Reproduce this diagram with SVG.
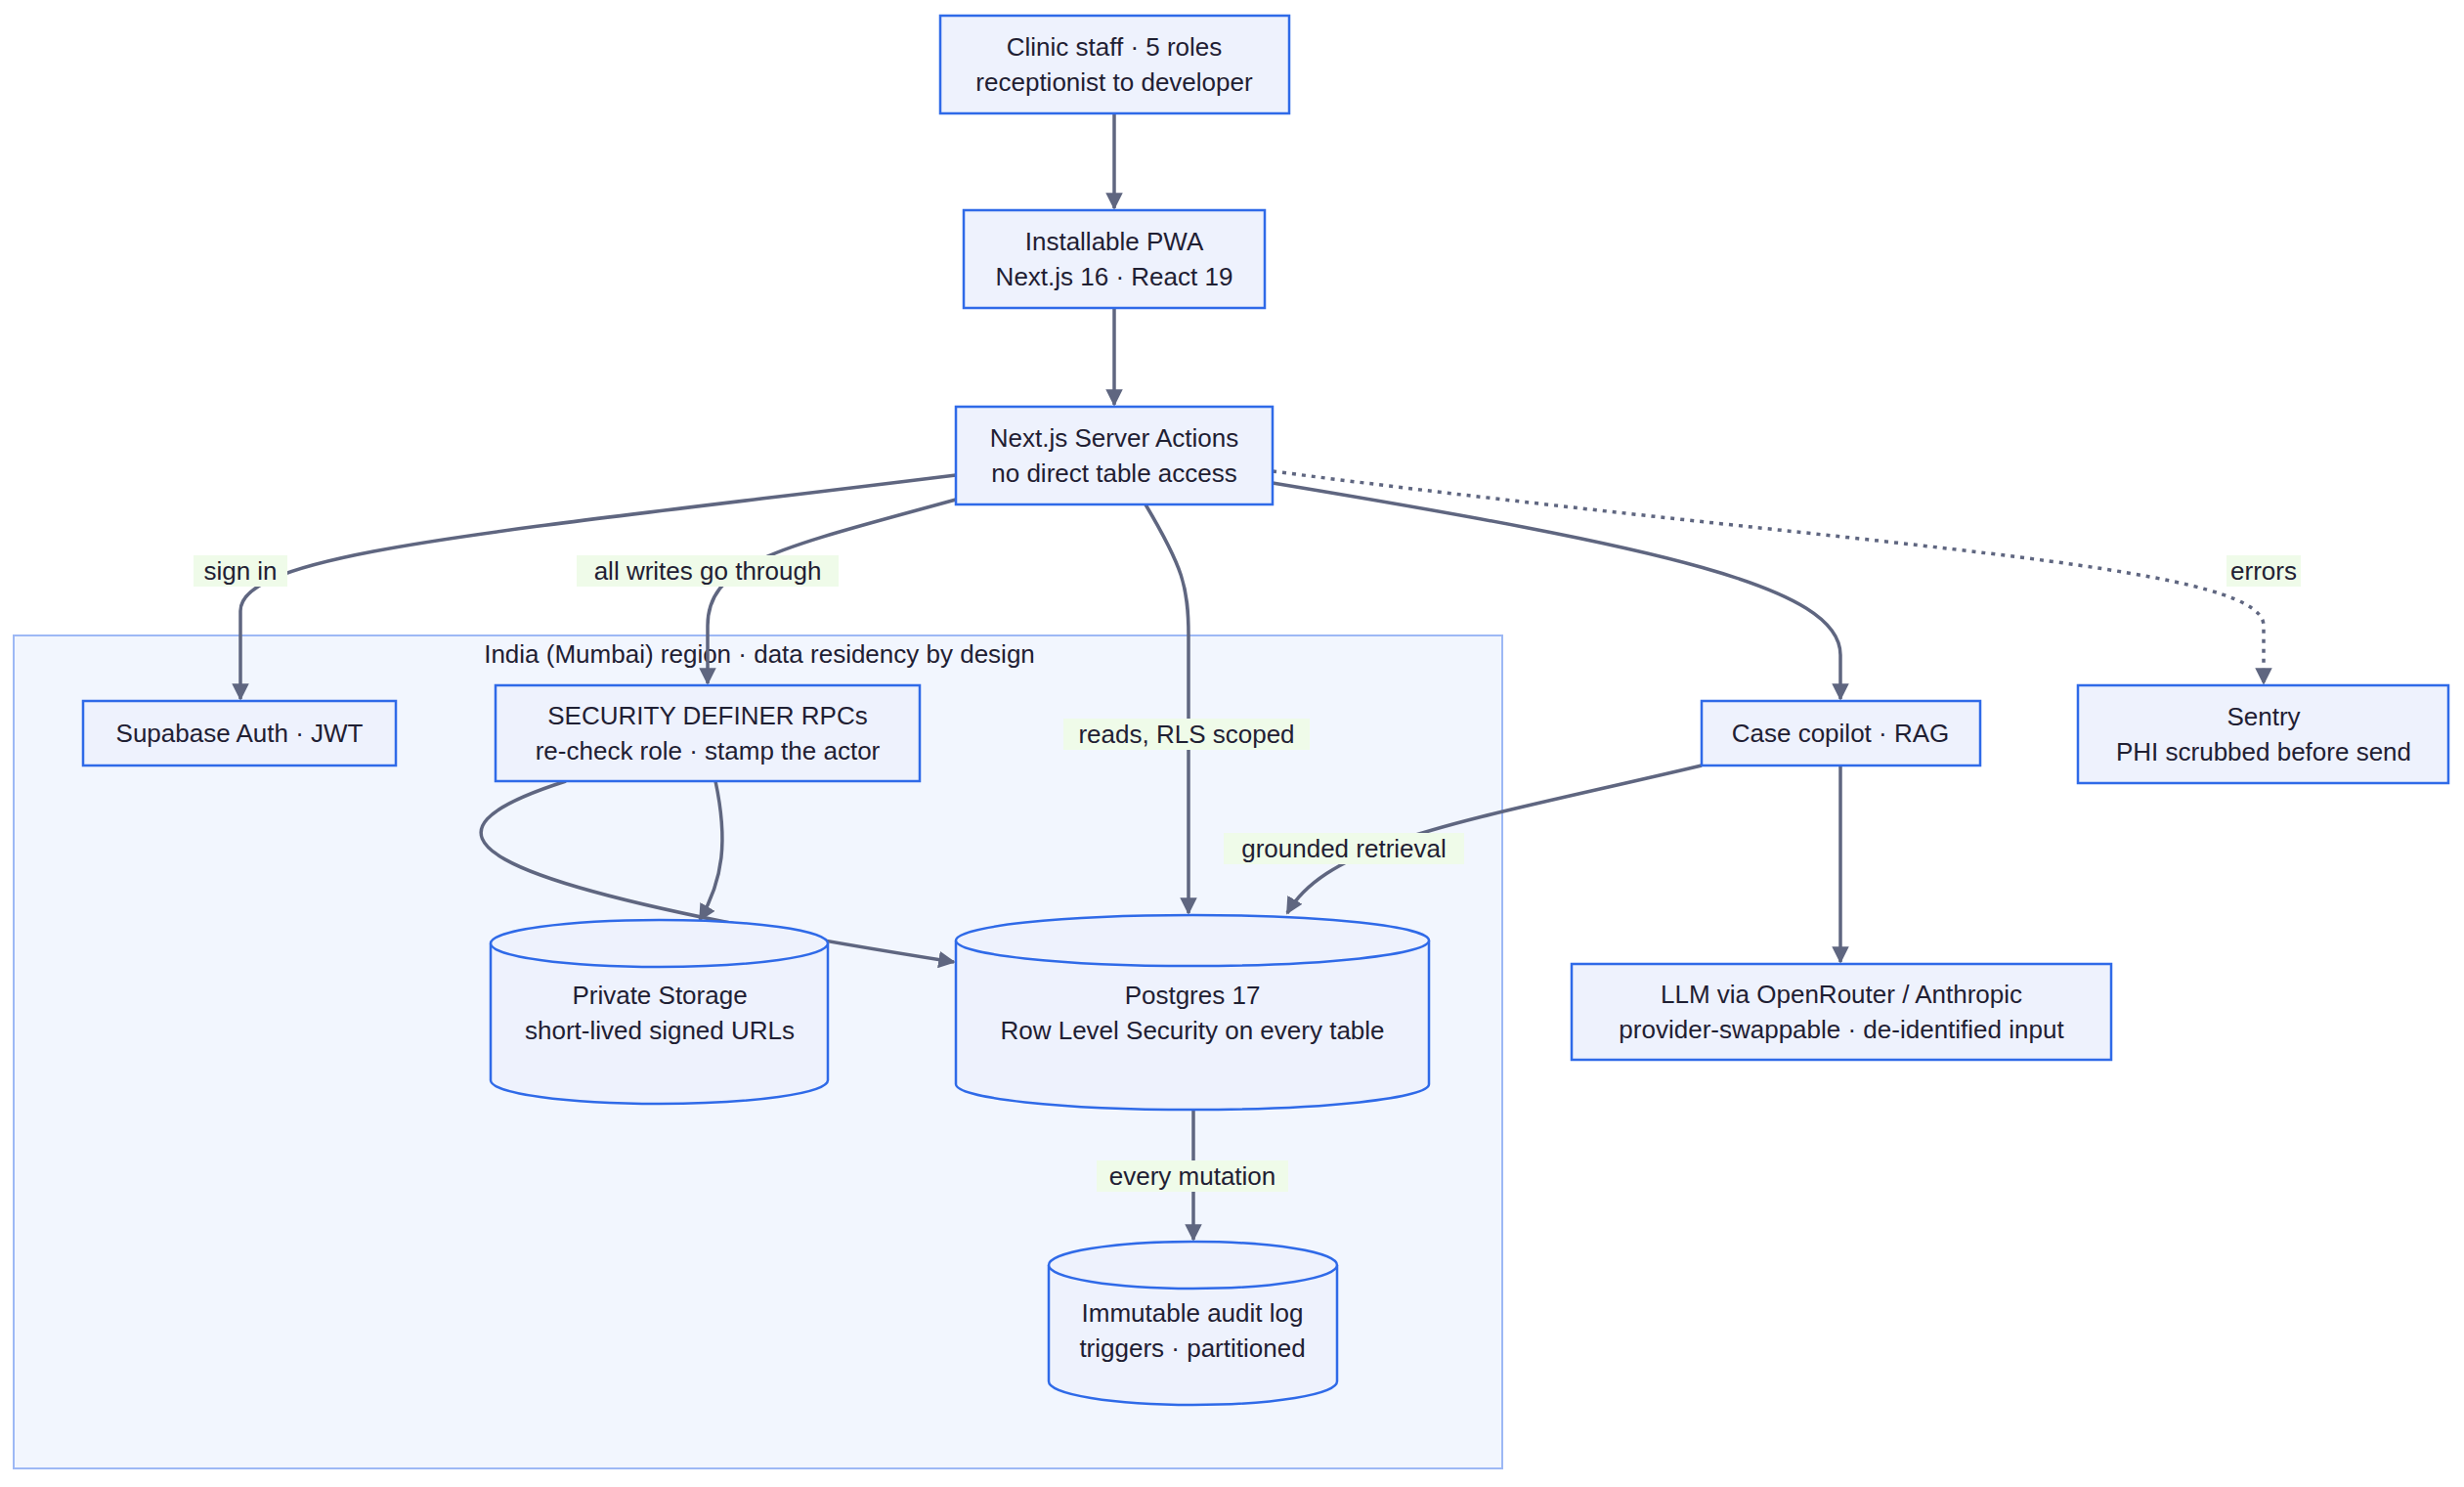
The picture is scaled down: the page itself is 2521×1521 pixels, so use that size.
<svg xmlns="http://www.w3.org/2000/svg" width="2521" height="1521" viewBox="0 0 2521 1521">
<style>
text{font-family:"Liberation Sans",Arial,sans-serif;font-size:26px;fill:#1f2033;text-anchor:middle;dominant-baseline:central}
.n{fill:#eef2fd;stroke:#2f6ae8;stroke-width:2.5}
.e{fill:none;stroke:#5f6680;stroke-width:3.5}
.d{stroke-dasharray:4 6}
.lb{fill:#effbe9}
</style>
<defs><marker id="a" viewBox="0 0 10 10" refX="9" refY="5" markerWidth="5" markerHeight="5" orient="auto" markerUnits="strokeWidth"><path d="M0,0L10,5L0,10z" fill="#5f6680"/></marker></defs>
<g id="cluster"><rect x="14" y="650" width="1523" height="852" fill="#f2f6fe" stroke="#9db8f5" stroke-width="2"/><text x="777" y="669">India (Mumbai) region · data residency by design</text></g>
<g id="edges">
<path class="e" marker-end="url(#a)" d="M1140,116L1140,213"/>
<path class="e" marker-end="url(#a)" d="M1140,315L1140,414"/>
<path class="e" marker-end="url(#a)" d="M978,486C500,545 246,565 246,625L246,715"/>
<path class="e" marker-end="url(#a)" d="M978,511C800,560 724,575 724,640L724,699"/>
<path class="e" marker-end="url(#a)" d="M1172,516C1210,580 1216,600 1216,650L1216,934"/>
<path class="e" marker-end="url(#a)" d="M1302,494C1700,560 1883,600 1883,670L1883,715"/>
<path class="e d" marker-end="url(#a)" d="M1302,482C1900,560 2316,575 2316,640L2316,699"/>
<path class="e" marker-end="url(#a)" d="M1741,783C1500,840 1360,860 1317,934"/>
<path class="e" marker-end="url(#a)" d="M1883,783L1883,984"/>
<path class="e" marker-end="url(#a)" d="M579,799C420,850 440,900 976,984"/>
<path class="e" marker-end="url(#a)" d="M732,799C745,860 740,900 716,941"/>
<path class="e" marker-end="url(#a)" d="M1221,1135L1221,1268"/>
</g>
<g id="labels">
<rect class="lb" x="198" y="568" width="96" height="32"/><text x="246" y="584">sign in</text>
<rect class="lb" x="590" y="568" width="268" height="32"/><text x="724" y="584">all writes go through</text>
<rect class="lb" x="1088" y="735" width="252" height="32"/><text x="1214" y="751">reads, RLS scoped</text>
<rect class="lb" x="2278" y="568" width="76" height="32"/><text x="2316" y="584">errors</text>
<rect class="lb" x="1252" y="852" width="246" height="32"/><text x="1375" y="868">grounded retrieval</text>
<rect class="lb" x="1122" y="1187" width="196" height="32"/><text x="1220" y="1203">every mutation</text>
</g>
<g id="clinic"><rect class="n" x="962" y="16" width="357" height="100"/><text x="1140" y="48">Clinic staff · 5 roles</text><text x="1140" y="84">receptionist to developer</text></g>
<g id="pwa"><rect class="n" x="986" y="215" width="308" height="100"/><text x="1140" y="247">Installable PWA</text><text x="1140" y="283">Next.js 16 · React 19</text></g>
<g id="sa"><rect class="n" x="978" y="416" width="324" height="100"/><text x="1140" y="448">Next.js Server Actions</text><text x="1140" y="484">no direct table access</text></g>
<g id="auth"><rect class="n" x="85" y="717" width="320" height="66"/><text x="245" y="750">Supabase Auth · JWT</text></g>
<g id="rpc"><rect class="n" x="507" y="701" width="434" height="98"/><text x="724" y="732">SECURITY DEFINER RPCs</text><text x="724" y="768">re-check role · stamp the actor</text></g>
<g id="copilot"><rect class="n" x="1741" y="717" width="285" height="66"/><text x="1883" y="750">Case copilot · RAG</text></g>
<g id="sentry"><rect class="n" x="2126" y="701" width="379" height="100"/><text x="2316" y="733">Sentry</text><text x="2316" y="769">PHI scrubbed before send</text></g>
<g id="llm"><rect class="n" x="1608" y="986" width="552" height="98"/><text x="1884" y="1017">LLM via OpenRouter / Anthropic</text><text x="1884" y="1053">provider-swappable · de-identified input</text></g>
<g id="storage"><path class="n" d="M502,965A172.5,24 0 0 1 847,965L847,1105A172.5,24 0 0 1 502,1105Z"/><path class="n" fill="none" d="M502,965A172.5,24 0 0 0 847,965"/><text x="675" y="1018">Private Storage</text><text x="675" y="1054">short-lived signed URLs</text></g>
<g id="postgres"><path class="n" d="M978,962A242,26 0 0 1 1462,962L1462,1109A242,26 0 0 1 978,1109Z"/><path class="n" fill="none" d="M978,962A242,26 0 0 0 1462,962"/><text x="1220" y="1018">Postgres 17</text><text x="1220" y="1054">Row Level Security on every table</text></g>
<g id="audit"><path class="n" d="M1073,1294A147.5,24 0 0 1 1368,1294L1368,1413A147.5,24 0 0 1 1073,1413Z"/><path class="n" fill="none" d="M1073,1294A147.5,24 0 0 0 1368,1294"/><text x="1220" y="1343">Immutable audit log</text><text x="1220" y="1379">triggers · partitioned</text></g>
</svg>
